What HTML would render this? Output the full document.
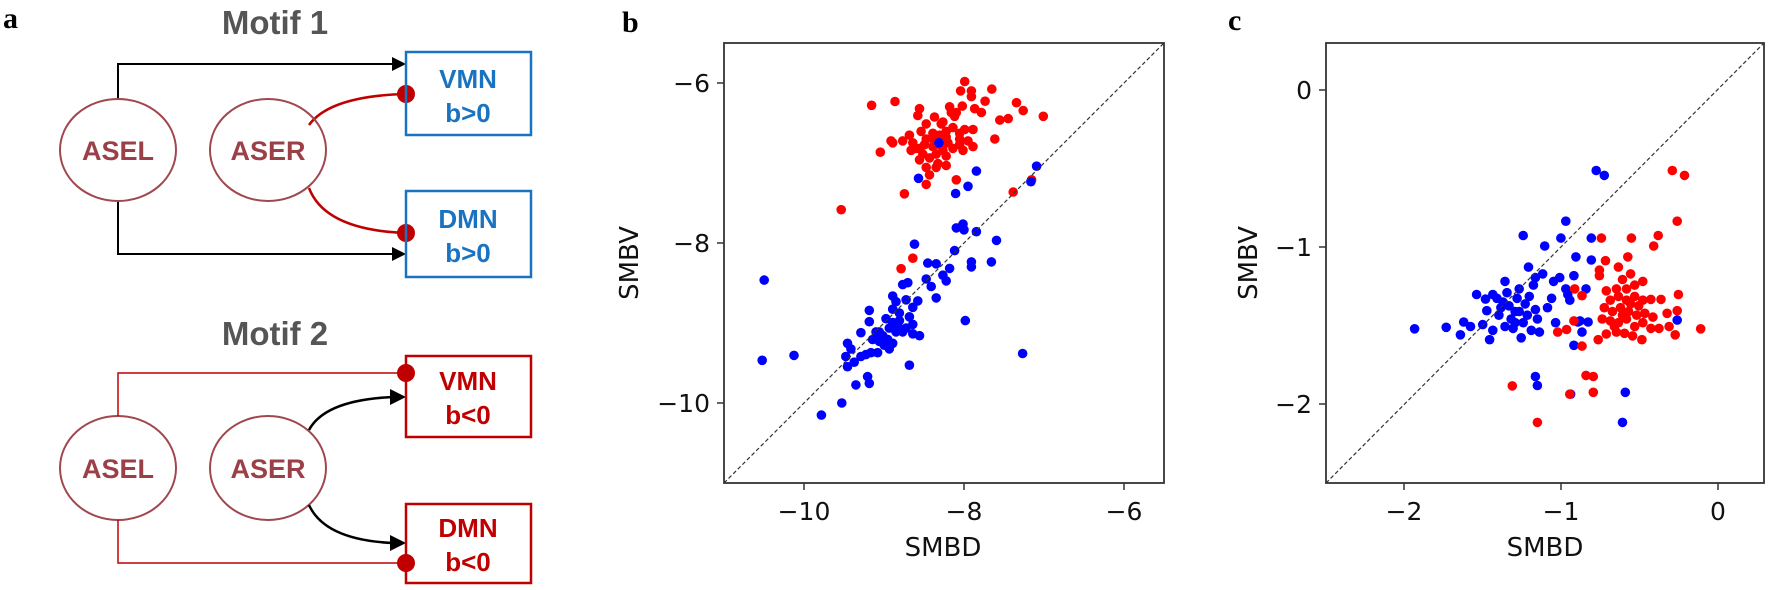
<!DOCTYPE html>
<html><head><meta charset="utf-8"><style>
html,body{margin:0;padding:0;background:#fff;}
svg{display:block;}
.tk{font-family:"DejaVu Sans","Liberation Sans",sans-serif;font-size:25px;fill:#111;}
.lb{font-family:"DejaVu Sans","Liberation Sans",sans-serif;font-size:26px;fill:#111;}
.pl{font-family:"Liberation Serif",serif;font-weight:bold;font-size:30px;fill:#000;}
.mt{font-family:"Liberation Sans",sans-serif;font-weight:bold;font-size:33px;fill:#555;}
.nd{font-family:"Liberation Sans",sans-serif;font-weight:bold;font-size:27px;fill:#9c4048;}
.bx{font-family:"Liberation Sans",sans-serif;font-weight:bold;font-size:26px;}
</style></head><body>
<svg id="s" width="1774" height="590" viewBox="0 0 1774 590" xmlns="http://www.w3.org/2000/svg">
<defs>
<marker id="ar" markerWidth="10" markerHeight="10" refX="9" refY="5" orient="auto" markerUnits="userSpaceOnUse"><path d="M0,0 L18,5 L0,10 z" transform="scale(0.55,1)"/></marker>
</defs>
<!-- panel a -->
<text class="pl" x="3" y="28">a</text>
<text class="mt" x="275" y="34" text-anchor="middle">Motif 1</text>
<text class="mt" x="275" y="345" text-anchor="middle">Motif 2</text>
<g fill="none" stroke="#000" stroke-width="2">
<path d="M118,99 V64 H392"/><path d="M118,201 V254 H392"/>
</g>
<path d="M392,57 L406,64 L392,71 z" fill="#000"/>
<path d="M392,247 L406,254 L392,261 z" fill="#000"/>
<g fill="none" stroke="#c00000" stroke-width="2.5">
<path d="M309,125 Q330,96 406,94"/><path d="M309,188 Q325,230 406,233"/>
</g>
<g fill="#c00000"><ellipse cx="406" cy="94" rx="9" ry="9"/><ellipse cx="406" cy="233" rx="9" ry="9"/></g>
<g fill="none" stroke="#1a73c0" stroke-width="2.5">
<rect x="406" y="52" width="125" height="83"/><rect x="406" y="191" width="125" height="86"/>
</g>
<text class="bx" fill="#1a73c0" x="468" y="88" text-anchor="middle">VMN</text>
<text class="bx" fill="#1a73c0" x="468" y="122" text-anchor="middle">b&gt;0</text>
<text class="bx" fill="#1a73c0" x="468" y="228" text-anchor="middle">DMN</text>
<text class="bx" fill="#1a73c0" x="468" y="262" text-anchor="middle">b&gt;0</text>
<g fill="none" stroke="#a0474f" stroke-width="2">
<ellipse cx="118" cy="150" rx="58" ry="51"/><ellipse cx="268" cy="150" rx="58" ry="51"/>
<ellipse cx="118" cy="468" rx="58" ry="52"/><ellipse cx="268" cy="468" rx="58" ry="52"/>
</g>
<text class="nd" x="118" y="160" text-anchor="middle">ASEL</text>
<text class="nd" x="268" y="160" text-anchor="middle">ASER</text>
<text class="nd" x="118" y="478" text-anchor="middle">ASEL</text>
<text class="nd" x="268" y="478" text-anchor="middle">ASER</text>
<g fill="none" stroke="#c00000" stroke-width="1.5">
<path d="M118,416 V373 H406"/><path d="M118,520 V563 H406"/>
</g>
<g fill="#c00000"><ellipse cx="406" cy="373" rx="9" ry="9"/><ellipse cx="406" cy="563" rx="9" ry="9"/></g>
<g fill="none" stroke="#000" stroke-width="2.5">
<path d="M309,430 Q325,400 393,397"/><path d="M309,505 Q325,540 393,543"/>
</g>
<path d="M390,389 L406,397 L390,405 z" fill="#000"/>
<path d="M390,535 L406,543 L390,551 z" fill="#000"/>
<g fill="none" stroke="#c00000" stroke-width="2.5">
<rect x="406" y="356" width="125" height="81"/><rect x="406" y="504" width="125" height="79"/>
</g>
<text class="bx" fill="#c00000" x="468" y="390" text-anchor="middle">VMN</text>
<text class="bx" fill="#c00000" x="468" y="424" text-anchor="middle">b&lt;0</text>
<text class="bx" fill="#c00000" x="468" y="537" text-anchor="middle">DMN</text>
<text class="bx" fill="#c00000" x="468" y="571" text-anchor="middle">b&lt;0</text>

<!-- panel b -->
<text class="pl" x="622" y="32">b</text>
<g id="pb"></g>
<line x1="724" y1="483" x2="1164" y2="43" stroke="#333" stroke-width="1.2" stroke-dasharray="4,2.5"/>
<rect x="724" y="43" width="440" height="440" fill="none" stroke="#333" stroke-width="1.8"/>
<g stroke="#333" stroke-width="1.5">
<line x1="804" y1="483" x2="804" y2="490"/><line x1="964" y1="483" x2="964" y2="490"/><line x1="1124" y1="483" x2="1124" y2="490"/>
<line x1="717" y1="83" x2="724" y2="83"/><line x1="717" y1="243" x2="724" y2="243"/><line x1="717" y1="403" x2="724" y2="403"/>
</g>
<text class="tk" x="804" y="520" text-anchor="middle">−10</text>
<text class="tk" x="964" y="520" text-anchor="middle">−8</text>
<text class="tk" x="1124" y="520" text-anchor="middle">−6</text>
<text class="tk" x="710" y="92" text-anchor="end">−6</text>
<text class="tk" x="710" y="252" text-anchor="end">−8</text>
<text class="tk" x="710" y="412" text-anchor="end">−10</text>
<text class="lb" x="943" y="556" text-anchor="middle">SMBD</text>
<text class="lb" x="0" y="0" text-anchor="middle" transform="translate(638,263) rotate(-90)">SMBV</text>

<!-- panel c -->
<text class="pl" x="1228" y="30">c</text>
<g id="pc"></g>
<line x1="1326" y1="483" x2="1764" y2="43" stroke="#333" stroke-width="1.2" stroke-dasharray="4,2.5"/>
<rect x="1326" y="43" width="438" height="440" fill="none" stroke="#333" stroke-width="1.8"/>
<g stroke="#333" stroke-width="1.5">
<line x1="1404" y1="483" x2="1404" y2="490"/><line x1="1561" y1="483" x2="1561" y2="490"/><line x1="1718" y1="483" x2="1718" y2="490"/>
<line x1="1319" y1="90" x2="1326" y2="90"/><line x1="1319" y1="247" x2="1326" y2="247"/><line x1="1319" y1="404" x2="1326" y2="404"/>
</g>
<text class="tk" x="1404" y="520" text-anchor="middle">−2</text>
<text class="tk" x="1561" y="520" text-anchor="middle">−1</text>
<text class="tk" x="1718" y="520" text-anchor="middle">0</text>
<text class="tk" x="1312" y="99" text-anchor="end">0</text>
<text class="tk" x="1312" y="256" text-anchor="end">−1</text>
<text class="tk" x="1312" y="413" text-anchor="end">−2</text>
<text class="lb" x="1545" y="556" text-anchor="middle">SMBD</text>
<text class="lb" x="0" y="0" text-anchor="middle" transform="translate(1257,263) rotate(-90)">SMBV</text>
</svg>
<script>
var NS="http://www.w3.org/2000/svg";
function put(g,pts,col,fx,fy){var el=document.getElementById(g);for(var i=0;i<pts.length;i+=2){var c=document.createElementNS(NS,"circle");c.setAttribute("cx",fx(pts[i]).toFixed(1));c.setAttribute("cy",fy(pts[i+1]).toFixed(1));c.setAttribute("r","4.8");c.setAttribute("fill",col);el.appendChild(c);}}
var bx=function(z){return 804+(z-735)*0.3347;},by=function(z){return 83+(z-222)*0.3783;};
var cx=function(z){return 1404.5+(z-652)*0.4052;},cy=function(z){return 90+(z-241)*0.376;};
var bR=[937,281,1007,271,1215,218,1203,243,1235,243,1235,258,1296,238,1276,270,1370,274,1390,295,1450,310,1320,320,1345,316,1080,290,1075,308,1125,312,1170,285,1208,283,1245,290,1265,300,1100,330,1150,325,1185,310,1190,300,1050,360,1030,375,995,375,1000,380,963,405,1060,380,1080,395,1100,370,1120,355,1140,360,1160,350,1180,340,1200,355,1215,345,1240,345,1225,375,1240,390,1200,385,1165,380,1150,400,1130,410,1110,420,1090,410,1080,425,1070,395,1120,390,1160,415,1135,435,1100,445,1110,465,1100,490,1130,445,1160,440,1190,478,1035,515,846,557,1305,370,1360,510,1415,478,1060,685,1025,713,1175,300,1145,330,1125,375,1095,385,1055,400,1200,370,1180,395,1210,400,1085,350,1160,365,1140,385];
var bB=[1138,380,1077,474,1250,455,1225,495,1188,514,1430,442,1413,483,1190,605,1210,595,1213,610,1250,615,1310,638,1065,648,1185,665,1105,698,1130,700,1170,712,1150,730,1160,745,1235,695,1235,708,1295,695,1100,740,1115,760,1130,790,1030,755,1045,750,616,743,1000,785,1010,800,1040,795,1075,798,1060,815,930,823,930,853,980,845,1000,855,1020,850,1050,840,1060,860,990,870,1010,880,1030,880,1060,885,1080,890,1217,850,905,882,950,880,955,895,970,890,985,900,1000,910,975,915,990,925,960,905,940,900,865,910,875,925,860,945,885,960,905,945,920,940,935,935,955,935,865,972,1050,968,610,955,705,942,1388,937,925,998,930,1016,890,1020,848,1068,787,1100,1020,830,1000,820,1040,870,960,880,1015,860];
var cB=[677,876,755,872,790,892,798,858,815,870,830,785,845,865,852,797,855,828,862,905,870,880,880,795,885,840,895,805,900,750,905,780,910,815,915,850,920,875,925,830,930,795,935,770,940,900,945,628,945,860,950,810,955,840,960,790,965,880,970,760,975,825,980,850,985,885,958,712,975,740,993,730,998,656,1005,820,1015,795,1020,750,1025,860,1038,635,1035,740,1050,590,1050,770,1055,785,1060,800,1070,735,1075,685,1080,858,1090,885,1085,855,1100,770,1105,858,1113,635,1113,693,1125,455,1145,468,1070,920,1062,1050,975,1003,980,1027,1197,1045,1190,1125,1325,853,870,785,890,820,935,830,925,860,900,870];
var cR=[1313,455,1343,468,1325,590,1278,628,1267,656,1212,635,1138,635,1203,685,1148,695,1133,720,1133,735,1180,712,1210,730,1190,745,1240,750,1220,760,1200,770,1175,770,1150,775,1160,800,1180,790,1200,800,1220,790,1240,800,1260,798,1285,798,1328,785,1145,820,1165,830,1185,820,1205,830,1225,840,1245,835,1265,845,1300,835,1325,828,1140,850,1160,855,1180,860,1200,850,1220,870,1240,860,1260,875,1280,875,1305,870,1383,876,1320,892,1130,905,1150,890,1175,885,1195,888,1215,895,1238,905,1072,770,1090,788,1030,885,1052,878,1070,855,1090,922,1100,1000,1118,1003,1118,1045,918,1028,980,1125,1060,1050,1210,810,1230,815,1190,840,1170,870];
put("pb",bR,"#ff0000",bx,by);put("pb",bB,"#0000ff",bx,by);
put("pc",cB,"#0000ff",cx,cy);put("pc",cR,"#ff0000",cx,cy);
</script>
</body></html>
